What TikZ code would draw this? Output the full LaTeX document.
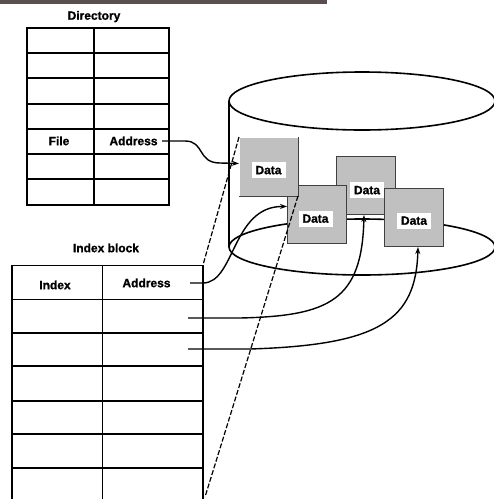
\documentclass[tikz,border=0pt]{standalone}
\usepackage{fontspec}
\setmainfont{Liberation Sans}[BoldFeatures={FakeBold=1.2}]
\usetikzlibrary{arrows.meta}
\definecolor{barcol}{RGB}{90,78,78}
\definecolor{boxgray}{RGB}{192,192,192}
\begin{document}
\begin{tikzpicture}[x=1pt,y=-1pt,
  lbl/.style={font=\bfseries\fontsize{12}{13}\selectfont, inner sep=0pt, text height=8.4pt, text depth=0pt},
  grid/.style={line width=1.7pt},
  thingrid/.style={line width=0.9pt},
  datablock/.style={fill=boxgray, draw=black!75, line width=1pt, minimum width=59pt, minimum height=58pt, inner sep=0pt, anchor=north west},
  datatag/.style={lbl, fill=white, minimum width=34pt, minimum height=16pt},
  link/.style={line width=1.4pt, -{Stealth[length=7pt,width=5pt]}},
  guide/.style={line width=1.2pt, dash pattern=on 5pt off 2pt},
  disk/.style={line width=1.6pt},
]
\useasboundingbox (0,0) rectangle (494,499);

% title bar
\fill[barcol] (0,0) rectangle (327,3.5);

% disk cylinder (cut at the right edge)
\begin{scope}
  \clip (0,0) rectangle (494,499);
  \draw[disk] (362,101) ellipse [x radius=133, y radius=29];
  \draw[disk] (362,247) ellipse [x radius=133, y radius=28];
  \draw[disk] (229,101) -- (229,247);
\end{scope}

% directory table
\node[lbl] (dirtitle) at (94,15.5) {Directory};
\draw[grid] (27,28) rectangle (169,205);
\foreach \y in {53,78,104,129,154,179} \draw[grid] (27,\y) -- (169,\y);
\draw[grid] (94,28) -- (94,205);
\node[lbl] (dirfile) at (59,141) {File};
\node[lbl] (diraddr) at (133.5,141) {Address};
\coordinate (dirptr) at (162,141);

% index block table
\node[lbl] (idxtitle) at (106,248) {Index block};
\draw[thingrid] (12,265) -- (203,265);
\draw[grid] (12,265) -- (12,500);
\draw[grid] (203,265) -- (203,500);
\draw[thingrid] (102,265) -- (102,500);
\draw[thingrid] (12,299) -- (203,299);
\foreach \y in {333,366,401,434,468} \draw[grid] (12,\y) -- (203,\y);
\node[lbl] (idxindex) at (55,285) {Index};
\node[lbl] (idxaddr) at (146.5,283) {Address};
\coordinate (idxTR) at (203,265);
\coordinate (idxBR) at (205,497);
\coordinate (ptrA) at (190,283);
\coordinate (ptrB) at (188,318);
\coordinate (ptrC) at (188,349);

% data blocks on the disk
\node[datablock] (data3) at (336,156) {};
\node[datatag] (tag3) at (367,190) {Data};
\node[datablock] (data4) at (384,188) {};
\node[datatag] (tag4) at (414,220.5) {Data};
\node[datablock] (data2) at (287,185) {};
\node[datatag] (tag2) at (315.5,218.5) {Data};
\node[datablock, draw=none, minimum width=58pt] (data1) at (239,137) {};
\draw[black!75, line width=1pt] (data1.north east) -- (data1.south east) -- (data1.south west);
\node[datatag] (tag1) at (268.5,170) {Data};

% guide lines from block 1 to the index block
\draw[guide] (data1.north west) -- (idxTR);
\draw[guide] (data1.south east) -- (idxBR);

% pointers
\draw[link] (dirptr) -- (185,141) .. controls (205,141) and (197,163) .. (220,163) -- ([yshift=3pt]data1.west);
\draw[link] (ptrA) -- (203,283) .. controls (235,283) and (232,206) .. ([yshift=8pt]data2.west);
\draw[link] (ptrB) -- (240,318) .. controls (330,316) and (362,300) .. ([xshift=-2pt]data3.south);
\draw[link] (ptrC) -- (250,349) .. controls (380,345) and (416,320) .. ([xshift=4pt]data4.south);
\end{tikzpicture}
\end{document}
